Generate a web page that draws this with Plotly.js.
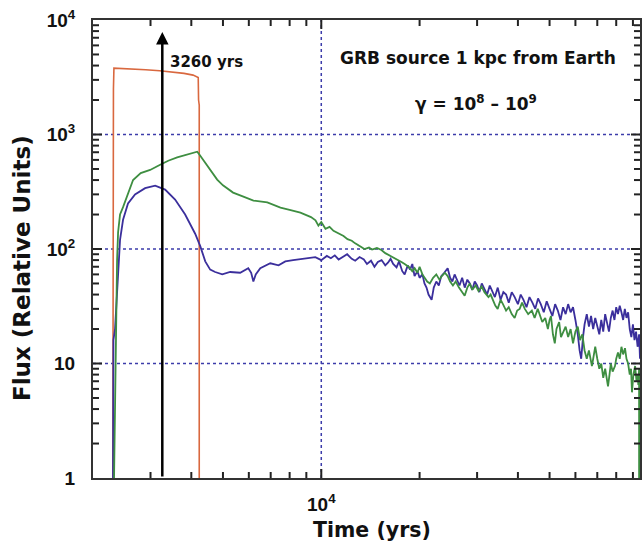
<!DOCTYPE html>
<html>
<head>
<meta charset="utf-8">
<script src="https://cdn.plot.ly/plotly-3.0.1.min.js"></script>
<style>html,body{margin:0;padding:0;background:#fff;}#chart{width:644px;height:547px;}</style>
</head>
<body>
<div id="chart"></div>
<script>
// ---- data: [time (yrs), flux (relative units)] ----
const redSeries = [[2300,1],[2303,1700],[2310,2500],[2318,3800],[2600,3750],[2900,3680],[3200,3600],[3500,3520],[3800,3420],[4050,3300],[4200,3150],[4210,2000],[4230,1800],[4230,1]];

const blueSeries = [[2303,1],[2303,11],[2310,16],[2336,20],[2370,40],[2387,58],[2420,120],[2472,180],[2560,250],[2690,300],[2888,340],[3100,358],[3326,330],[3568,270],[3830,200],[4110,136],[4260,106],[4413,78],[4570,66],[4732,63],[4975,60],[5260,63],[5645,62],[5977,68],[6100,62],[6195,52],[6300,60],[6505,68],[6980,75],[7400,72],[7760,78],[8200,80],[8630,82],[9100,84],[9590,85],
[10000,80],[10400,87],[10700,83],[11000,88],[11300,81],[11700,86],[12000,90],[12400,82],[12700,79],[13100,85],[13500,81],[13800,74],[14200,79],[14550,70],[14900,77],[15300,80],[15700,72],[16000,76],[16300,82],[16600,74],[17000,69],[17300,78],[17700,64],[18000,60],[18400,72],[18700,66],[19000,74],[19300,58],[19700,64],[20000,56],[20400,60],[20700,50],[21000,46],[21300,40],[21770,36],[22100,46],[22500,52],[22900,48],[23300,58],[23800,62],[24380,68],[24800,56],[25200,52],[25600,60],[26000,54],[26500,48],[27000,56],[27500,46],[28000,54],[28500,50],[29000,44],[29500,52],[30000,48],[30500,42],[31000,50],[31600,44],[32200,40],[32800,48],[33400,42],[34000,38],[34700,46],[35400,36],[36100,42],[36800,40],[37500,34],[38300,42],[39100,38],[40000,33],[40800,40],[41600,36],[42500,31],[43400,38],[44300,34],[45200,30],[46100,37],[47000,33],[48000,28],[49000,35],[50000,30],[51000,26],[52000,33],[53000,29],[54000,24],[55000,31],[56000,27],[57000,33],[58000,28],[59000,31],[60000,24],[61000,18],[61800,13],[62500,11],[63300,17],[64000,22],[65000,27],[66000,21],[67000,26],[68000,20],[69000,25],[70000,21],[71000,18],[72000,24],[73000,19],[74000,27],[75000,22],[76000,19],[77000,25],[78000,29],[79000,24],[80000,31],[81000,27],[82000,32],[83000,28],[84000,24],[85000,30],[86000,25],[87000,28],[88000,20],[89000,17],[90000,22],[91000,16],[92000,19],[93000,14],[94000,18],[94600,11]];

const greenSeries = [[2320,1],[2336,5],[2350,30],[2370,80],[2387,140],[2420,200],[2472,232],[2560,310],[2653,400],[2800,460],[2992,490],[3211,545],[3400,590],[3620,630],[3900,665],[4110,690],[4170,708],[4250,660],[4413,568],[4600,470],[4800,404],[5000,360],[5370,311],[5800,285],[6200,265],[6835,255],[7500,230],[8000,220],[8630,208],
[9300,190],[9600,178],[9800,160],[10000,172],[10300,150],[10600,156],[10900,144],[11300,136],[11700,130],[12030,122],[12400,118],[12700,112],[13100,106],[13560,100],[14000,103],[14300,99],[14800,102],[15280,98],[15700,92],[16200,88],[16700,84],[17130,80],[17600,77],[18000,74],[18500,70],[19000,64],[19310,68],[19700,62],[20000,70],[20400,60],[20700,56],[21100,52],[21500,50],[22000,56],[22500,60],[23000,54],[23400,58],[23900,62],[24380,58],[24800,52],[25300,48],[25800,52],[26400,46],[26900,42],[27480,39],[28000,46],[28500,50],[29000,44],[29700,48],[30300,43],[30980,47],[31600,42],[32500,38],[33000,40],[33600,35],[34100,32],[34680,30],[35400,36],[36000,33],[36800,29],[37500,31],[38300,27],[39090,25],[39800,29],[40500,30],[41200,34],[42000,30],[43000,27],[44130,29],[45000,25],[46000,30],[46800,26],[47500,23],[48500,25],[49410,20],[50000,24],[50500,26],[51200,18],[51880,15],[52500,20],[53500,23],[54200,17],[55000,19],[56000,21],[57000,17],[58000,20],[59000,15],[60000,19],[61000,21],[62000,16],[63000,18],[64000,13],[65000,11],[66000,13],[67400,9.5],[68200,12],[69000,14],[70000,11],[71000,9],[72000,10],[73000,7.5],[74000,9],[75500,6.3],[76300,8],[77000,10],[78000,8.5],[79300,9.5],[80000,11],[81000,12.5],[82000,11],[83000,14],[84000,12],[85100,13.6],[86000,11],[87000,10],[88000,8],[88800,9],[89400,5.6],[90300,8],[91400,9.5],[92300,7],[93000,8],[93500,6.5],[94000,9],[94000,1]];

const arrowYear = 3260;
const arrowTipFlux = 7850;

const xRange = [2000, 94600];
const yRange = [1, 10000];
const xLabelVals = [10000];
const xLabelText = ['10<sup>4</sup>'];
const yLabelVals = [1, 10, 100, 1000, 10000];
const yLabelText = ['1', '10', '10<sup>2</sup>', '10<sup>3</sup>', '10<sup>4</sup>'];
const xMajorTicks = [10000];
const xMinorTicks = [3000, 4000, 5000, 6000, 7000, 8000, 9000, 20000, 30000, 40000, 50000, 60000, 70000, 80000, 90000];
const yMajorTicks = [10, 100, 1000];
const yMinorTicks = [2,3,4,5,6,7,8,9,20,30,40,50,60,70,80,90,200,300,400,500,600,700,800,900,2000,3000,4000,5000,6000,7000,8000,9000];
const xGridVals = [10000];
const yGridVals = [10, 100, 1000];

const W = 644, H = 547, M = {l: 93, r: 4, t: 20, b: 69};
const plotW = W - M.l - M.r, plotH = H - M.t - M.b;

// ---- traces ----
const traces = [];
const addSeries = (s, color, w) => traces.push({x: s.map(p => p[0]), y: s.map(p => p[1]), mode: 'lines', line: {color: color, width: w}, hoverinfo: 'skip'});
addSeries(redSeries, '#d9683f', 1.6);
addSeries(blueSeries, '#3b2f9c', 1.8);
addSeries(greenSeries, '#3e8e41', 1.8);

// ---- shapes: dotted grid + inside ticks on all four sides (shapes take data values here) ----
const shapes = [];
const gridLine = {color: '#3c3caa', width: 1.5, dash: 'dot'};
yGridVals.forEach(v => shapes.push({type: 'line', layer: 'below', xref: 'x domain', yref: 'y', x0: 0, x1: 1, y0: v, y1: v, line: gridLine}));
xGridVals.forEach(v => shapes.push({type: 'line', layer: 'below', xref: 'x', yref: 'y domain', x0: v, x1: v, y0: 0, y1: 1, line: gridLine}));
const tickLine = {color: '#222', width: 2};
function addTicks(xVals, yVals, len) {
  const dx = len / plotW, dy = len / plotH;
  yVals.forEach(v => {
    shapes.push({type: 'line', xref: 'x domain', yref: 'y', x0: 0, x1: dx, y0: v, y1: v, line: tickLine});
    shapes.push({type: 'line', xref: 'x domain', yref: 'y', x0: 1 - dx, x1: 1, y0: v, y1: v, line: tickLine});
  });
  xVals.forEach(v => {
    shapes.push({type: 'line', xref: 'x', yref: 'y domain', x0: v, x1: v, y0: 0, y1: dy, line: tickLine});
    shapes.push({type: 'line', xref: 'x', yref: 'y domain', x0: v, x1: v, y0: 1 - dy, y1: 1, line: tickLine});
  });
}
addTicks(xMajorTicks, yMajorTicks, 9);
addTicks(xMinorTicks, yMinorTicks, 6);

const tickFont = {family: 'Liberation Sans, Arial, sans-serif', size: 19, color: '#111', weight: 'bold'};
const textFont = (s) => ({family: 'DejaVu Sans, sans-serif', size: s, color: '#111', weight: 'bold'});

const axisCommon = {
  type: 'log',
  showline: true, linecolor: '#333', linewidth: 2, mirror: true,
  ticks: '', showgrid: false, zeroline: false, tickfont: tickFont, tickmode: 'array'
};

const layout = {
  width: W, height: H,
  margin: M,
  paper_bgcolor: '#fff', plot_bgcolor: '#fff',
  showlegend: false,
  xaxis: Object.assign({}, axisCommon, {
    range: xRange.map(Math.log10),
    tickvals: xLabelVals, ticktext: xLabelText, ticklabelstandoff: 8
  }),
  yaxis: Object.assign({}, axisCommon, {
    range: yRange.map(Math.log10),
    tickvals: yLabelVals, ticktext: yLabelText, ticklabelstandoff: 12
  }),
  shapes: shapes,
  annotations: [
    {xref: 'paper', yref: 'paper', x: -0.1298, y: 0.4585, text: 'Flux (Relative Units)', textangle: -90,
     showarrow: false, xanchor: 'center', yanchor: 'middle', font: textFont(23)},
    {xref: 'paper', yref: 'paper', x: 0.510, y: -0.1135, text: 'Time (yrs)',
     showarrow: false, xanchor: 'center', yanchor: 'middle', font: textFont(20.5)},
    {xref: 'paper', yref: 'paper', x: 0.704, y: 0.917, text: 'GRB source 1 kpc from Earth',
     showarrow: false, xanchor: 'center', yanchor: 'middle', font: textFont(17)},
    {xref: 'paper', yref: 'paper', x: 0.700, y: 0.819, text: 'γ = 10<sup>8</sup> – 10<sup>9</sup>',
     showarrow: false, xanchor: 'center', yanchor: 'middle', font: textFont(17)},
    {xref: 'paper', yref: 'paper', x: 0.137, y: 0.908, text: '3260 yrs',
     showarrow: false, xanchor: 'left', yanchor: 'middle', font: textFont(15)},
    {xref: 'x', yref: 'y', x: Math.log10(arrowYear), y: Math.log10(arrowTipFlux), text: '',
     showarrow: true, ax: 0, ay: 446, arrowhead: 2, arrowsize: 1, arrowwidth: 2.5, arrowcolor: '#000', standoff: 0, startstandoff: 0}
  ]
};

Plotly.newPlot('chart', traces, layout, {staticPlot: true, displayModeBar: false});
</script>
</body>
</html>
